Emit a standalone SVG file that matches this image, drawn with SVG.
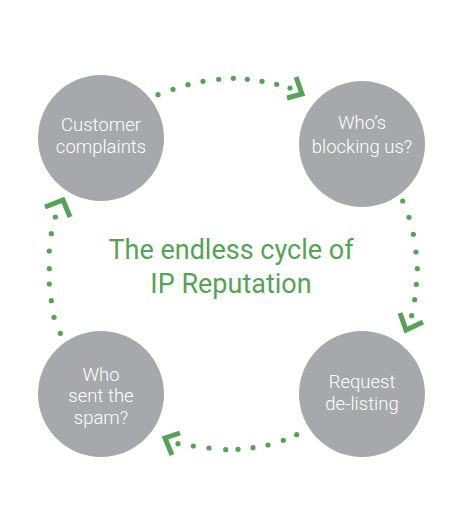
<svg xmlns="http://www.w3.org/2000/svg" width="470" height="512" viewBox="0 0 470 512">
<style>
.node{fill:#a7a8ab}
.lbl{font-family:Roboto,"Liberation Sans",sans-serif;font-size:18.5px;font-weight:300;fill:#ffffff;text-anchor:middle}
.title{font-family:Roboto,"Liberation Sans",sans-serif;font-size:27px;fill:#55a355;text-anchor:middle}
.dot{fill:#55a355}
.head{fill:none;stroke:#55a355;stroke-width:5;stroke-linejoin:miter}
</style>
<rect width="470" height="512" fill="#ffffff"/>
<g id="node-complaints">
<circle class="node" cx="101" cy="138" r="63"/>
<text class="lbl" x="101" y="131">Customer</text>
<text class="lbl" x="101" y="153">complaints</text>
</g>
<g id="node-blocking">
<circle class="node" cx="362" cy="144" r="63"/>
<text class="lbl" x="362" y="129">Who’s</text>
<text class="lbl" x="362" y="153">blocking us?</text>
</g>
<g id="node-delisting">
<circle class="node" cx="362" cy="394" r="63"/>
<text class="lbl" x="362" y="388">Request</text>
<text class="lbl" x="362" y="410">de-listing</text>
</g>
<g id="node-spam">
<circle class="node" cx="101" cy="394" r="63"/>
<text class="lbl" x="101" y="381">Who</text>
<text class="lbl" x="101" y="402">sent the</text>
<text class="lbl" x="101" y="424">spam?</text>
</g>
<g id="title">
<text class="title" x="231" y="259">The endless cycle of</text>
<text class="title" x="231" y="293">IP Reputation</text>
</g>
<g id="connectors">
<g id="c1">
<circle class="dot" cx="158" cy="94.7" r="2.6"/>
<circle class="dot" cx="173" cy="89.3" r="2.6"/>
<circle class="dot" cx="188" cy="84.7" r="2.6"/>
<circle class="dot" cx="203" cy="81.3" r="2.6"/>
<circle class="dot" cx="218.7" cy="79.3" r="2.6"/>
<circle class="dot" cx="233.3" cy="78.3" r="2.6"/>
<circle class="dot" cx="247.3" cy="79.3" r="2.6"/>
<circle class="dot" cx="262" cy="81.3" r="2.6"/>
<circle class="dot" cx="276.7" cy="84.3" r="2.6"/>
<circle class="dot" cx="290" cy="88" r="2.6"/>
<polyline class="head" points="296,77 302,94 287,98"/>
</g>
<g id="c2">
<circle class="dot" cx="402.7" cy="201" r="2.6"/>
<circle class="dot" cx="409" cy="217.3" r="2.6"/>
<circle class="dot" cx="413.3" cy="234.3" r="2.6"/>
<circle class="dot" cx="416" cy="252" r="2.6"/>
<circle class="dot" cx="417.3" cy="268.7" r="2.6"/>
<circle class="dot" cx="416.3" cy="284.3" r="2.6"/>
<circle class="dot" cx="414.7" cy="299.7" r="2.6"/>
<circle class="dot" cx="411.7" cy="315.7" r="2.6"/>
<polyline class="head" points="400,313 406,330 423,322"/>
</g>
<g id="c3">
<circle class="dot" cx="296.7" cy="434.7" r="2.6"/>
<circle class="dot" cx="283.3" cy="440.3" r="2.6"/>
<circle class="dot" cx="268" cy="445" r="2.6"/>
<circle class="dot" cx="253" cy="447.7" r="2.6"/>
<circle class="dot" cx="238" cy="449.3" r="2.6"/>
<circle class="dot" cx="225.7" cy="449.7" r="2.6"/>
<circle class="dot" cx="209" cy="448" r="2.6"/>
<circle class="dot" cx="193.3" cy="446" r="2.6"/>
<circle class="dot" cx="178" cy="443.7" r="2.6"/>
<polyline class="head" points="180,433 165,438 172,455"/>
</g>
<g id="c4">
<circle class="dot" cx="60.3" cy="333.3" r="2.6"/>
<circle class="dot" cx="54" cy="317.3" r="2.6"/>
<circle class="dot" cx="51.3" cy="300.7" r="2.6"/>
<circle class="dot" cx="49.3" cy="284" r="2.6"/>
<circle class="dot" cx="49.3" cy="268.7" r="2.6"/>
<circle class="dot" cx="49.3" cy="251" r="2.6"/>
<circle class="dot" cx="51.3" cy="233.7" r="2.6"/>
<circle class="dot" cx="55.3" cy="217" r="2.6"/>
<polyline class="head" points="45,207 63,200 70,217"/>
</g>
</g>
</svg>
